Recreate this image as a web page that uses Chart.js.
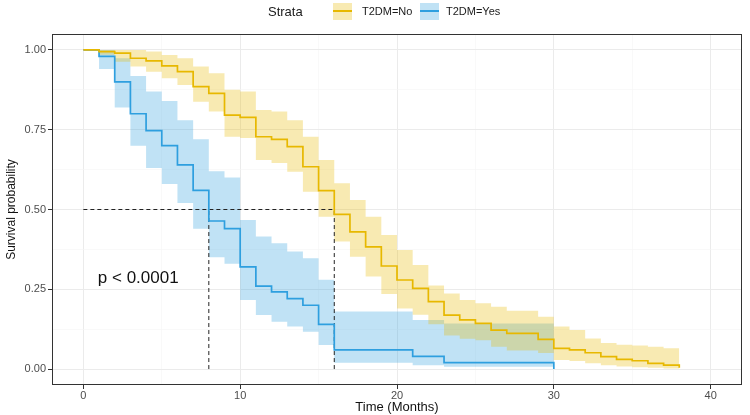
<!DOCTYPE html>
<html>
<head>
<meta charset="utf-8">
<script src="https://cdn.jsdelivr.net/npm/chart.js@4.4.0/dist/chart.umd.min.js"></script>
<style>
  html, body { margin: 0; padding: 0; background: #fff; }
  #wrap { position: relative; width: 750px; height: 415px; }
  #legend { position: absolute; left: 0; top: 0; width: 750px; height: 26px;
            font-family: 'Liberation Sans', Arial, sans-serif; color: #1a1a1a; }
  #legend span { position: absolute; white-space: nowrap; }
  .ttl { font-size: 13px; left: 268px; top: 4px; }
  .lab { font-size: 11px; top: 5px; }
  .key { width: 19px; height: 17px; top: 3px; }
  .key::after { content: ''; position: absolute; left: 0; right: 0; top: 7px; height: 2px; }
  .key.no { left: 333px; background: rgba(231,184,0,0.3); }
  .key.no::after { background: #E7B800; }
  .key.yes { left: 420px; background: rgba(46,159,223,0.3); }
  .key.yes::after { background: #2E9FDF; }
</style>
</head>
<body>
<div id="wrap">
  <canvas id="km" width="750" height="415"></canvas>
  <div id="legend">
    <span class="ttl">Strata</span>
    <span class="key no"></span><span class="lab" style="left:362px">T2DM=No</span>
    <span class="key yes"></span><span class="lab" style="left:446px">T2DM=Yes</span>
  </div>
</div>
<script>
// T2DM=No (yellow)
const noTimes = [0,1,2,3,4,5,6,7,8,9,10,11,12,13,14,15,16,17,18,19,20,21,22,23,24,25,26,27,29,30,31,32,33,34,35,36,37,38];
const noSurv  = [1,0.995,0.99,0.974,0.966,0.95,0.932,0.885,0.864,0.796,0.789,0.728,0.72,0.697,0.634,0.559,0.485,0.43,0.383,0.323,
                 0.279,0.253,0.211,0.169,0.154,0.143,0.122,0.112,0.093,0.065,0.06,0.051,0.039,0.03,0.026,0.018,0.0125,0.004];
const noUpper = [1,1,1,1,0.995,0.984,0.974,0.948,0.927,0.875,0.87,0.812,0.807,0.78,0.728,0.655,0.582,0.53,0.477,0.42,
                 0.373,0.326,0.262,0.237,0.216,0.206,0.195,0.183,0.164,0.133,0.122,0.096,0.082,0.076,0.074,0.07,0.065,0.065];
const noLower = [1,0.985,0.963,0.948,0.932,0.911,0.89,0.838,0.807,0.728,0.724,0.655,0.646,0.618,0.556,0.477,0.40,0.352,0.29,0.235,
                 0.19,0.17,0.14,0.105,0.095,0.09,0.07,0.058,0.05,0.028,0.025,0.018,0.012,0.008,0.006,0.004,0.002,0.002];

// T2DM=Yes (blue)
const yesTimes = [0,1,2,3,4,5,6,7,8,9,10,11,12,13,14,15,16,21,23,30];
const yesSurv  = [1,0.98,0.90,0.80,0.747,0.70,0.64,0.56,0.464,0.44,0.32,0.26,0.242,0.221,0.20,0.14,0.06,0.04,0.02,0.0];
const yesUpper = [1,1,0.974,0.918,0.87,0.84,0.78,0.72,0.62,0.60,0.467,0.415,0.394,0.368,0.347,0.28,0.18,0.154,0.143,0.143];
const yesLower = [1,0.94,0.82,0.70,0.63,0.58,0.52,0.44,0.35,0.33,0.216,0.169,0.148,0.133,0.117,0.075,0.02,0.012,0.007,0.007];

// median survival guides
const medianLevel = 0.5;
const medianTimes = [8, 16];

const xTicks = [0,5,10,15,20,25,30,35,40];
const yTicks = [0,0.125,0.25,0.375,0.5,0.625,0.75,0.875,1];
const pvalText = 'p < 0.0001';

const YELLOW = '#E7B800', YELLOW_BAND = 'rgba(231,184,0,0.3)';
const BLUE = '#2E9FDF', BLUE_BAND = 'rgba(46,159,223,0.3)';

const pts = (xs, ys) => xs.map((x, i) => ({ x, y: ys[i] }));

const band = (data, color, fill, order) => ({
  data, borderWidth: 0, pointRadius: 0, stepped: 'before',
  backgroundColor: color, fill, order
});
const curve = (data, color) => ({
  data, borderColor: color, borderWidth: 1.7, pointRadius: 0,
  stepped: 'before', fill: false, order: 0
});
const dashed = data => ({
  data, borderColor: '#222', borderWidth: 1, borderDash: [4, 3],
  pointRadius: 0, fill: false, order: 1
});

const datasets = [
  band(pts(yesTimes, yesUpper), BLUE_BAND, false, 21),
  band(pts(yesTimes, yesLower), BLUE_BAND, 0, 20),
  band(pts(noTimes, noUpper), YELLOW_BAND, false, 11),
  band(pts(noTimes, noLower), YELLOW_BAND, 2, 10),
  dashed([{ x: 0, y: medianLevel }, { x: Math.max(...medianTimes), y: medianLevel }]),
  ...medianTimes.map(t => dashed([{ x: t, y: 0 }, { x: t, y: medianLevel }])),
  curve(pts(noTimes, noSurv), YELLOW),
  curve(pts(yesTimes, yesSurv), BLUE)
];

// panel border + p-value label
const panelPlugin = {
  id: 'panel',
  afterDraw(chart) {
    const { ctx, chartArea: a, scales: { x, y } } = chart;
    ctx.save();
    ctx.strokeStyle = '#333';
    ctx.lineWidth = 1;
    ctx.strokeRect(Math.round(a.left) + 0.5, Math.round(a.top) + 0.5,
                   Math.round(a.right - a.left) - 1, Math.round(a.bottom - a.top) - 1);
    ctx.fillStyle = '#111';
    ctx.font = '17px "Liberation Sans", Arial, sans-serif';
    ctx.textAlign = 'center';
    ctx.textBaseline = 'middle';
    ctx.fillText(pvalText, x.getPixelForValue(3.5), y.getPixelForValue(0.285));
    ctx.restore();
  }
};

const isMajorX = v => v % 10 === 0;
const isMajorY = v => Math.abs(v * 4 - Math.round(v * 4)) < 1e-9;

new Chart(document.getElementById('km'), {
  type: 'line',
  data: { datasets },
  options: {
    responsive: false,
    animation: false,
    layout: { padding: { top: 34, right: 8, left: 0, bottom: 0 } },
    plugins: { legend: { display: false }, tooltip: { enabled: false } },
    scales: {
      x: {
        type: 'linear', min: -2, max: 42,
        afterBuildTicks: s => { s.ticks = xTicks.map(value => ({ value })); },
        afterFit: s => { s.height = 30; },
        border: { display: false },
        grid: {
          color: c => isMajorX(c.tick.value) ? '#ebebeb' : '#f5f5f5',
          lineWidth: c => isMajorX(c.tick.value) ? 1 : 0.6,
          tickColor: c => isMajorX(c.tick.value) ? '#333' : 'rgba(0,0,0,0)',
          tickLength: 4, drawTicks: true
        },
        ticks: {
          autoSkip: false, maxRotation: 0, padding: 0, color: '#4d4d4d',
          font: { family: '"Liberation Sans", Arial, sans-serif', size: 11 },
          callback: v => isMajorX(v) ? String(v) : ''
        },
        title: {
          display: true, text: 'Time (Months)', color: '#111',
          font: { family: '"Liberation Sans", Arial, sans-serif', size: 13 },
          padding: { top: 0, bottom: 0 }
        }
      },
      y: {
        type: 'linear', min: -0.05, max: 1.05,
        afterBuildTicks: s => { s.ticks = yTicks.map(value => ({ value })); },
        afterFit: s => { s.width = 52; },
        border: { display: false },
        grid: {
          color: c => isMajorY(c.tick.value) ? '#ebebeb' : '#f5f5f5',
          lineWidth: c => isMajorY(c.tick.value) ? 1 : 0.6,
          tickColor: c => isMajorY(c.tick.value) ? '#333' : 'rgba(0,0,0,0)',
          tickLength: 4, drawTicks: true
        },
        ticks: {
          autoSkip: false, padding: 2, color: '#4d4d4d',
          font: { family: '"Liberation Sans", Arial, sans-serif', size: 11 },
          callback: v => isMajorY(v) ? v.toFixed(2) : ''
        },
        title: {
          display: true, text: 'Survival probability', color: '#111',
          font: { family: '"Liberation Sans", Arial, sans-serif', size: 12 },
          padding: { top: 4, bottom: 4 }
        }
      }
    }
  },
  plugins: [panelPlugin]
});
</script>
</body>
</html>
